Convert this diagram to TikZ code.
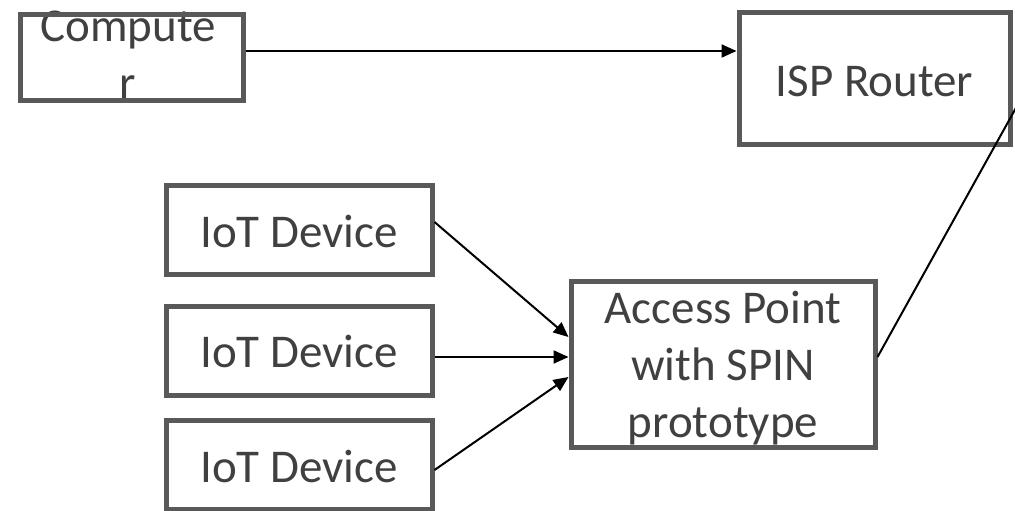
\documentclass[tikz,border=0pt]{standalone}
\usepackage{fontspec}
\setmainfont{Carlito}
\usetikzlibrary{arrows.meta}
\definecolor{boxgray}{HTML}{595959}
\definecolor{textgray}{HTML}{404040}
\begin{document}
\begin{tikzpicture}[x=1pt,y=-1pt,
  box/.style={draw=boxgray, line width=5pt, inner sep=0pt},
  txt/.style={text=textgray, align=center, inner sep=0pt, anchor=base,
    font=\fontsize{47}{57}\selectfont},
  arr/.style={line width=2pt, -{Triangle[length=15pt,width=13pt]}},
  link/.style={line width=2pt}]
  \useasboundingbox (0,0) rectangle (1015,511);

  % labels (last-line baselines), set before the frames so borders overlap them
  \node[txt] (compt) at (128,99)  {Compute\\r};
  \node[txt] (ispt)  at (874.5,96) {ISP Router};
  \node[txt] (iot1t) at (299,247) {IoT Device};
  \node[txt] (iot2t) at (299,367.5) {IoT Device};
  \node[txt] (iot3t) at (299,482) {IoT Device};
  \node[txt] (apt)   at (723,437) {Access Point\\with SPIN\\prototype};

  % frames
  \node[box, minimum width=223pt, minimum height=85pt]  (comp) at (131.5,57.5) {};
  \node[box, minimum width=271pt, minimum height=131pt] (isp)  at (874.5,78.5) {};
  \node[box, minimum width=266pt, minimum height=89pt]  (iot1) at (299,230) {};
  \node[box, minimum width=266pt, minimum height=89pt]  (iot2) at (299,350.5) {};
  \node[box, minimum width=266pt, minimum height=89pt]  (iot3) at (299,465) {};
  \node[box, minimum width=304pt, minimum height=166pt] (ap)   at (723,364) {};

  % uplink leaving the frame on the right
  \coordinate (isplink) at (1017,106);

  % connectors
  \draw[arr] ([yshift=6.5pt]comp.east) -- ([yshift=27.5pt]isp.west);
  \draw[link] ([yshift=7pt]ap.east) -- (isplink);
  \draw[arr] ([yshift=8pt]iot1.east) -- ([yshift=27pt]ap.west);
  \draw[arr] ([yshift=-6.5pt]iot2.east) -- ([yshift=7pt]ap.west);
  \draw[arr] ([yshift=-5pt]iot3.east) -- ([yshift=-13pt]ap.west);
\end{tikzpicture}
\end{document}
